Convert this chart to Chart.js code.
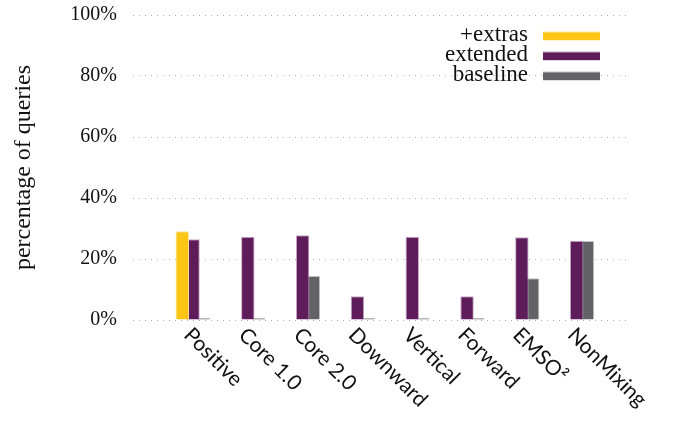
<!DOCTYPE html>
<html>
<head>
<meta charset="utf-8">
<script src="https://cdn.jsdelivr.net/npm/chart.js@4"></script>
<style>
  html, body { margin: 0; padding: 0; background: #fff; }
  #wrap { width: 673px; height: 421px; }
</style>
</head>
<body>
<div id="wrap"><canvas id="chart"></canvas></div>
<script>
// --- DATA ---
const categories = ['Positive', 'Core 1.0', 'Core 2.0', 'Downward', 'Vertical', 'Forward', 'EMSO\u00b2', 'NonMixing'];
const extras   = [29.1, null, null, null, null, null, null, null];
const extended = [26.5, 27.3, 27.8, 7.8, 27.3, 7.8, 27.1, 26.0];
const baseline = [0.7, 0.7, 14.4, 0.7, 0.7, 0.7, 13.7, 25.9];
const yTicks = [0, 20, 40, 60, 80, 100];

const seriesNames = ['+extras', 'extended', 'baseline'];
const fills   = ['#fdc513', '#5f1c5b', '#636267'];
const borders = ['#fde79a', '#c8a8c6', '#c4c4c6'];

const serif = '"Liberation Serif", "Times New Roman", serif';
const sans = 'Lato, "Noto Sans", sans-serif';

function points(values) {
    return values.map((v, i) => ({ x: i, y: v }));
}

// --- ROTATED CATEGORY LABELS ---
const xLabels = {
    id: 'xLabels',
    afterDraw(chart) {
        const ctx = chart.ctx;
        const xs = chart.scales.x;
        const top = chart.chartArea.bottom + 4;
        ctx.save();
        ctx.font = '21px ' + sans;
        ctx.fillStyle = '#111';
        ctx.textAlign = 'left';
        ctx.textBaseline = 'top';
        categories.forEach((c, i) => {
            ctx.save();
            ctx.translate(xs.getPixelForValue(i) + 2, top);
            ctx.rotate(Math.PI / 4);
            ctx.fillText(c, 0, 0);
            ctx.restore();
        });
        ctx.restore();
    }
};

// --- LEGEND (text left of box) ---
const sideLegend = {
    id: 'sideLegend',
    afterDraw(chart) {
        const ctx = chart.ctx;
        const right = chart.chartArea.right - 26;
        ctx.save();
        ctx.font = '23px ' + serif;
        ctx.textAlign = 'right';
        ctx.textBaseline = 'alphabetic';
        seriesNames.forEach((name, i) => {
            const y = 32 + i * 20;
            ctx.fillStyle = borders[i];
            ctx.fillRect(right - 57, y - 0.5, 57, 9);
            ctx.fillStyle = fills[i];
            ctx.fillRect(right - 57, y + 0.5, 57, 7.5);
            ctx.fillStyle = '#111';
            ctx.fillText(name, right - 72, y + 9);
        });
        ctx.restore();
    }
};

const datasets = [extras, extended, baseline].map((vals, i) => ({
    label: seriesNames[i],
    data: points(vals),
    backgroundColor: fills[i],
    borderColor: borders[i],
    borderWidth: 1,
    categoryPercentage: 0.59,
    barPercentage: 1.25
}));

new Chart(document.getElementById('chart'), {
    type: 'bar',
    data: { datasets },
    options: {
        responsive: true,
        maintainAspectRatio: false,
        animation: false,
        layout: { padding: { left: 7, right: 47, top: 15, bottom: 101 } },
        plugins: {
            legend: { display: false },
            tooltip: { enabled: false }
        },
        scales: {
            x: {
                type: 'linear',
                display: false,
                offset: false,
                grid: { offset: false },
                min: -1.095,
                max: 7.9,
                afterBuildTicks: (scale) => { scale.ticks = categories.map((c, i) => ({ value: i })); }
            },
            y: {
                min: 0,
                max: 100,
                afterBuildTicks: (scale) => { scale.ticks = yTicks.map(v => ({ value: v })); },
                afterFit: (scale) => {
                    scale.width = 126;
                    scale.paddingTop = 0;
                    scale.paddingBottom = 0;
                },
                ticks: {
                    padding: 16,
                    color: '#111',
                    font: { family: serif, size: 20 },
                    callback: (v) => v + '%'
                },
                grid: { color: '#b0b0b0', lineWidth: 1, drawTicks: false },
                border: { display: false, dash: [1, 5] },
                title: {
                    display: true,
                    text: 'percentage of queries',
                    color: '#111',
                    font: { family: serif, size: 24 },
                    padding: { top: 2, bottom: 0 }
                }
            }
        }
    },
    plugins: [xLabels, sideLegend]
});
</script>
</body>
</html>
